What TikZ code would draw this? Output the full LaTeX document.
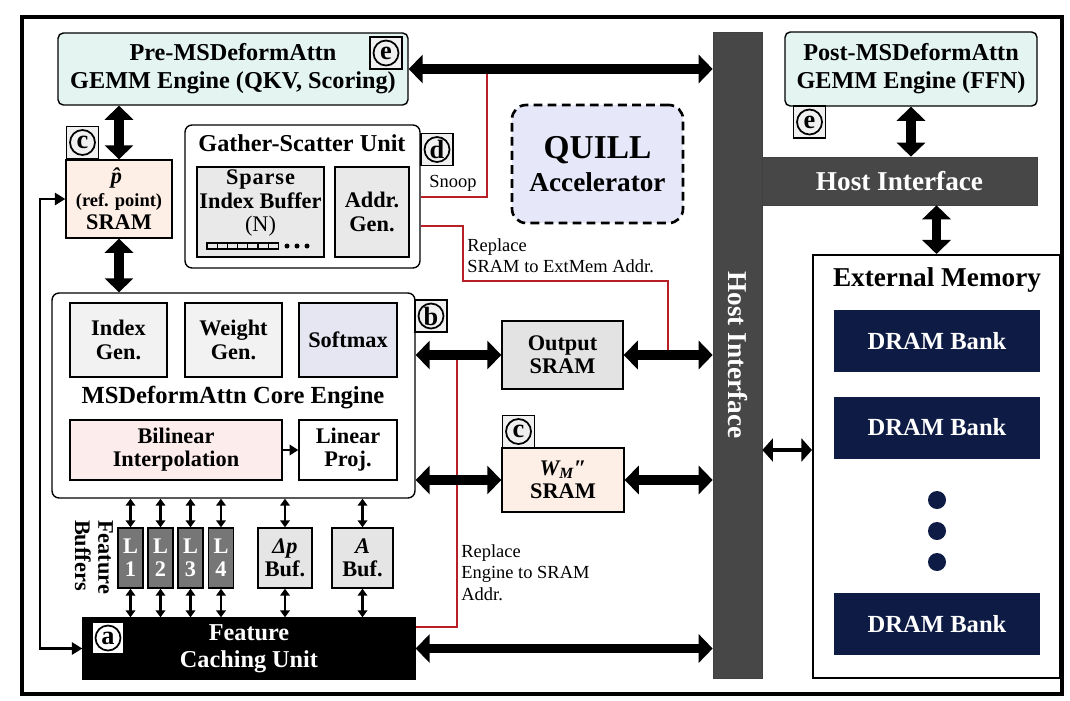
\documentclass[tikz,border=0pt]{standalone}
\usepackage{fontspec}
\setmainfont{Liberation Serif}
\usetikzlibrary{positioning,arrows.meta}
\definecolor{gemmcyan}{HTML}{E4F4F1}
\definecolor{sramPeach}{HTML}{FDEEE6}
\definecolor{softLav}{HTML}{E6E6F3}
\definecolor{quillBlue}{HTML}{E6E8FA}
\definecolor{bilinPink}{HTML}{FDECEC}
\definecolor{hostGray}{HTML}{474747}
\definecolor{dramNavy}{HTML}{0D1B45}
\definecolor{lbufGray}{HTML}{767676}
\definecolor{addrRed}{HTML}{B82025}
\newcommand\fbig{\fontsize{13.8}{16}\selectfont\bfseries}
\newcommand\fmid{\fontsize{12.7}{13.2}\selectfont\bfseries}
\newcommand\fnote{\fontsize{10.5}{12.3}\selectfont}
\begin{document}
\begin{tikzpicture}[x=0.02cm, y=-0.02cm,
  blk/.style={draw, line width=0.8pt, inner sep=0pt, align=center, font=\fmid},
  engine/.style={blk, rounded corners=3pt, fill=gemmcyan, font=\fbig},
  unitbox/.style={blk, rounded corners=4pt, fill=white},
  hostbar/.style={draw=black!75, fill=hostGray, inner sep=0pt, text=white, font=\fontsize{15.5}{17}\selectfont\bfseries},
  dram/.style={fill=dramNavy, minimum width=4.12cm, minimum height=1.24cm, text=white, font=\fontsize{14}{16}\selectfont\bfseries},
  lbuf/.style={blk, fill=lbufGray, text=white, minimum width=0.5cm, minimum height=1.2cm},
  badge/.style={draw, fill=gray!12, line width=0.6pt, minimum size=0.64cm, inner sep=0pt, font=\fontsize{15}{15}\selectfont\bfseries,
    path picture={\draw[line width=1pt] (path picture bounding box.center) circle (0.25cm);}},
  note/.style={align=left, inner sep=0pt, font=\fnote},
  bigarr/.style={{Triangle[length=8pt,width=16pt]}-{Triangle[length=8pt,width=16pt]}, line width=5.5pt},
  midarr/.style={{Triangle[length=6pt,width=13pt]}-{Triangle[length=6pt,width=13pt]}, line width=2.5pt},
  smarr/.style={{Triangle[length=4pt,width=5.5pt]}-{Triangle[length=4pt,width=5.5pt]}, line width=1.2pt},
  redline/.style={draw=addrRed, line width=0.7pt}
]
\useasboundingbox (0,0) rectangle (1070,700);
\draw[line width=1.8pt] (22,17) rectangle (1062,694);

\node[engine, minimum width=7cm, minimum height=1.44cm] (pre) at (233,69) {Pre-MSDeformAttn\\GEMM Engine (QKV, Scoring)};
\node[engine, minimum width=5.04cm, minimum height=1.48cm] (post) at (911,69) {Post-MSDeformAttn\\GEMM Engine (FFN)};
\node[badge] (bade1) at (386,53) {e};
\node[badge] (bade2) at (809.5,122) {e};

\node[hostbar, minimum width=0.98cm, minimum height=12.92cm] (hostv) at (737.5,355) {};
\node[hostbar, draw=none, fill=none, rotate=-90] (hostvtxt) at (hostv) {Host Interface};
\node[hostbar, minimum width=5.5cm, minimum height=0.96cm] (hosth) at (899.5,181) {Host Interface};

\node[blk, fill=white, line width=1.2pt, minimum width=4.94cm, minimum height=8.46cm] (ext) at (936.5,466.5) {};
\node[font=\fontsize{15.5}{17}\selectfont\bfseries] (exttitle) at (937,280) {External Memory};
\node[dram] (dram1) at (937,341) {DRAM Bank};
\node[dram] (dram2) at (937,427.5) {DRAM Bank};
\node[dram] (dram3) at (937,624) {DRAM Bank};
\foreach \y in {500,531,562} \fill[dramNavy] (937,\y) circle (0.18cm);

\node[blk, dash pattern=on 5pt off 3pt, line width=1.5pt, rounded corners=8pt, fill=quillBlue, minimum width=3.42cm, minimum height=2.36cm,
  font=\fontsize{15.5}{19}\selectfont\bfseries] (quill) at (597.5,164) {{\fontsize{19}{19}\selectfont QUILL}\\Accelerator};

\node[unitbox, minimum width=4.7cm, minimum height=2.86cm] (gsu) at (302.5,196.5) {};
\node[font=\fbig] (gsutitle) at (302,143) {Gather-Scatter Unit};
\node[blk, fill=gray!17, minimum width=2.54cm, minimum height=1.8cm] (sib) at (260.5,212) {};
\node[align=center, inner sep=0pt, font=\fmid] (sibtxt) at (260.5,203) {{\addfontfeature{LetterSpace=4}Sparse}\\Index Buffer\\{\mdseries (N)}};
\foreach \i in {0,...,6} \draw[line width=0.6pt] (207+\i*10.2,243) rectangle ++(10.2,6);
\foreach \x in {287,297,307} \fill (\x,246) circle (0.05cm);
\node[blk, fill=gray!17, minimum width=1.48cm, minimum height=1.8cm] (agen) at (372,212) {Addr.\\Gen.};
\node[badge] (badd) at (437,149.5) {d};

\node[blk, fill=sramPeach, minimum width=2.12cm, minimum height=1.56cm] (phat) at (119,199) {\textit{\^{p}}\\{\fontsize{10.5}{12}\selectfont (ref. point)}\\SRAM};
\node[badge] (badc1) at (82.5,142.5) {c};

\node[unitbox, minimum width=7.26cm, minimum height=4.1cm] (core) at (233.5,395.5) {};
\node[font=\fontsize{14}{16}\selectfont\bfseries] (coretitle) at (233,398) {MSDeformAttn Core Engine};
\node[blk, fill=gray!10, minimum width=1.94cm, minimum height=1.48cm] (igen) at (118.5,340) {Index\\Gen.};
\node[blk, fill=gray!10, minimum width=1.94cm, minimum height=1.48cm] (wgen) at (233.5,340) {Weight\\Gen.};
\node[blk, fill=softLav, minimum width=1.96cm, minimum height=1.48cm] (smax) at (348,340) {Softmax};
\node[blk, fill=bilinPink, minimum width=4.24cm, minimum height=1.2cm] (bilin) at (176,450) {Bilinear\\Interpolation};
\node[blk, fill=white, minimum width=1.96cm, minimum height=1.2cm] (lproj) at (348,450) {Linear\\Proj.};
\node[badge] (badb) at (431,316) {b};

\node[blk, fill=gray!22, minimum width=2.42cm, minimum height=1.36cm] (osram) at (562.5,355) {Output\\SRAM};
\node[blk, fill=sramPeach, minimum width=2.44cm, minimum height=1.28cm] (wsram) at (563,480) {\textit{W\textsubscript{M}″}\\SRAM};
\node[badge] (badc2) at (518.5,431.5) {c};

\node[blk, fill=black, text=white, font=\fontsize{13.8}{15.5}\selectfont\bfseries, minimum width=6.64cm, minimum height=1.22cm] (fcu) at (249,648.5) {Feature\\Caching Unit};
\node[badge, fill=white] (bada) at (108,638) {a};

\foreach \n/\x in {1/130.5,2/160.5,3/190.5,4/221} \node[lbuf] (l\n) at (\x,558) {L\\\n};
\node[blk, fill=gray!20, minimum width=1.08cm, minimum height=1.2cm] (dbuf) at (285,558) {\textit{Δp}\\Buf.};
\node[blk, fill=gray!20, minimum width=1.22cm, minimum height=1.2cm] (abuf) at (362.5,558) {\textit{A}\\Buf.};
\node[align=left, inner sep=0pt, rotate=-90, font=\fmid] (fbtxt) at (94,557) {Feature\\Buffers};

\coordinate (snoopx) at (487,197);
\coordinate (extaddr) at (463,226);
\coordinate (extaddr2) at (668,281);
\coordinate (engaddr) at (457,627);
\coordinate (loopx) at (40,0);
\coordinate (memlink) at (0,450);
\draw[redline] (snoopx |- pre.east) -- (snoopx) -- (snoopx -| gsu.east);
\draw[redline] (extaddr -| gsu.east) -- (extaddr) |- (extaddr2) -- (extaddr2 |- osram.east);
\draw[redline] (engaddr |- osram.west) -- (engaddr) -- (engaddr -| fcu.east);
\node[note] (snooptxt) at (453,183) {Snoop};
\node[note, anchor=north west] (exttxt) at (467,238) {Replace\\SRAM to ExtMem Addr.};
\node[note, anchor=north west] (engtxt) at (461,544) {Replace\\Engine to SRAM\\Addr.};

\draw[bigarr] (pre.east) -- (pre.east -| hostv.west);
\draw[bigarr] (phat.north |- pre.south) -- (phat.north);
\draw[bigarr] (phat.south) -- (phat.south |- core.north);
\draw[bigarr] (post.south) -- (post.south |- hosth.north);
\draw[bigarr] (ext.north |- hosth.south) -- (ext.north);
\draw[bigarr] (osram.west -| core.east) -- (osram.west);
\draw[bigarr] (osram.east) -- (osram.east -| hostv.west);
\draw[bigarr] (wsram.west -| core.east) -- (wsram.west);
\draw[bigarr] (wsram.east) -- (wsram.east -| hostv.west);
\draw[bigarr] (fcu.east) -- (fcu.east -| hostv.west);
\draw[midarr] (hostv.east |- memlink) -- (ext.west |- memlink);
\draw[-{Triangle[length=5pt,width=6pt]}, line width=1.2pt] (bilin.east) -- (lproj.west);
\draw[{Triangle[length=6pt,width=7pt]}-{Triangle[length=6pt,width=7pt]}, line width=1.3pt] (phat.west) -- (loopx |- phat.west) -- (loopx |- fcu.west) -- (fcu.west);
\foreach \b in {l1,l2,l3,l4,dbuf,abuf} {
  \draw[smarr] (\b.north |- core.south) -- (\b.north);
  \draw[smarr] (\b.south) -- (\b.south |- fcu.north);
}
\end{tikzpicture}
\end{document}
